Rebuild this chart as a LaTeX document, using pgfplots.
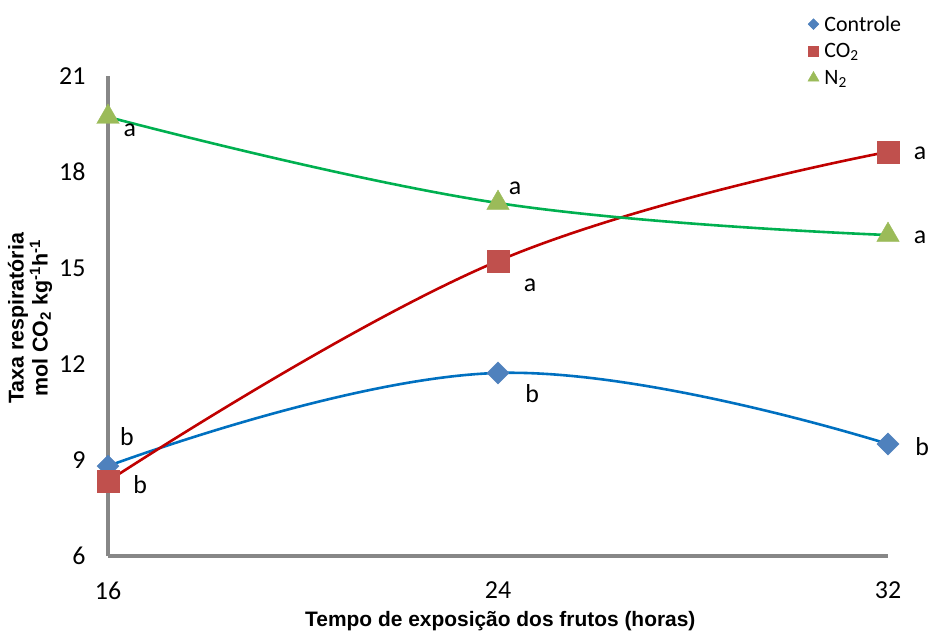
\documentclass[border=0pt]{standalone}
\usepackage{pgfplots}
\pgfplotsset{compat=1.18}
\usepackage{fontspec}
\setmainfont{Carlito}
\newfontfamily\arialfont{Liberation Sans}

\definecolor{ctrlmark}{HTML}{4F81BD}
\definecolor{co2mark}{HTML}{C0504D}
\definecolor{ntwomark}{HTML}{9BBB59}
\definecolor{ctrlline}{HTML}{0070C0}
\definecolor{co2line}{HTML}{C00000}
\definecolor{ntwoline}{HTML}{00B050}
\definecolor{axisgray}{HTML}{878787}

\begin{document}
\begin{tikzpicture}[x=1bp,y=1bp]
\path[use as bounding box] (-108bp,-77bp) rectangle (822bp,556bp);
\begin{axis}[
  at={(0,0)}, anchor=south west,
  scale only axis, width=780bp, height=480bp,
  xmin=16, xmax=32, ymin=6, ymax=21,
  xtick={16,24,32}, ytick={6,9,...,21},
  axis x line=bottom, axis y line=left,
  axis line style={draw=axisgray, line width=3.2bp, -},
  major tick length=0pt,
  tick label style={font=\fontsize{26}{28}\selectfont, text=black},
  /pgf/number format/assume math mode=true,
  yticklabel style={xshift=-19bp},
  xticklabel style={yshift=-22bp},
  xlabel={Tempo de exposição dos frutos (horas)},
  xlabel style={font=\arialfont\bfseries\fontsize{21}{24}\selectfont, at={(axis description cs:0.503,-0.135)}, anchor=center},
  ylabel={Taxa respiratória\\mol CO\textsubscript{2} kg\textsuperscript{-1}h\textsuperscript{-1}},
  ylabel style={font=\arialfont\bfseries\fontsize{21.5}{24}\selectfont, align=center, at={(axis description cs:-0.1,0.495)}, anchor=center},
  clip=false,
  legend style={draw=none, fill=none, at={(rel axis cs:0.897,1.13)}, anchor=north west,
    font=\fontsize{22}{24}\selectfont, row sep=7bp, inner sep=0pt},
  legend cell align=left,
  legend image code/.code={\draw plot coordinates {(0bp,0bp)}; \path[draw=none, fill=none] (0bp,0bp) -- (9bp,0bp);},
]
% measured points (markers)
\addplot[only marks, mark=square*, mark size=7.8bp, mark options={rotate=45, draw=ctrlmark, fill=ctrlmark},
  legend image post style={mark size=3.8bp}]
  coordinates {(16,8.81) (24,11.72) (32,9.5)};
\addlegendentry{Controle}
\addplot[only marks, mark=square*, mark size=11bp, mark options={draw=co2mark, fill=co2mark},
  legend image post style={mark size=5bp}]
  coordinates {(16,8.34) (24,15.22) (32,18.63)};
\addlegendentry{CO\textsubscript{2}}
\addplot[only marks, mark=triangle*, mark size=13bp, mark options={draw=ntwomark, fill=ntwomark},
  legend image post style={mark size=6.5bp}]
  coordinates {(16,19.72) (24,17.03) (32,16.03)};
\addlegendentry{N\textsubscript{2}}

% fitted trend curves
\addplot[forget plot, smooth, tension=0.7, no marks, draw=ctrlline, line width=2.6bp]
  coordinates {(16,8.81) (24,11.72) (32,9.5)};
\addplot[forget plot, smooth, tension=0.7, no marks, draw=co2line, line width=2.6bp]
  coordinates {(16,8.34) (24,15.22) (32,18.63)};
\addplot[forget plot, smooth, tension=0.7, no marks, draw=ntwoline, line width=2.6bp]
  coordinates {(16,19.72) (24,17.03) (32,16.03)};

% significance letters
\begin{scope}[every node/.style={font=\fontsize{26}{28}\selectfont, inner sep=0pt}]
\node at (axis cs:16.45,19.31) {a};
\node at (axis cs:24.35,17.5) {a};
\node at (axis cs:32.66,15.97) {a};
\node at (axis cs:16.66,8.22) {b};
\node at (axis cs:24.66,14.47) {a};
\node at (axis cs:32.66,18.59) {a};
\node at (axis cs:16.39,9.72) {b};
\node at (axis cs:24.70,11.09) {b};
\node at (axis cs:32.70,9.41) {b};
\end{scope}
\end{axis}
\end{tikzpicture}
\end{document}
